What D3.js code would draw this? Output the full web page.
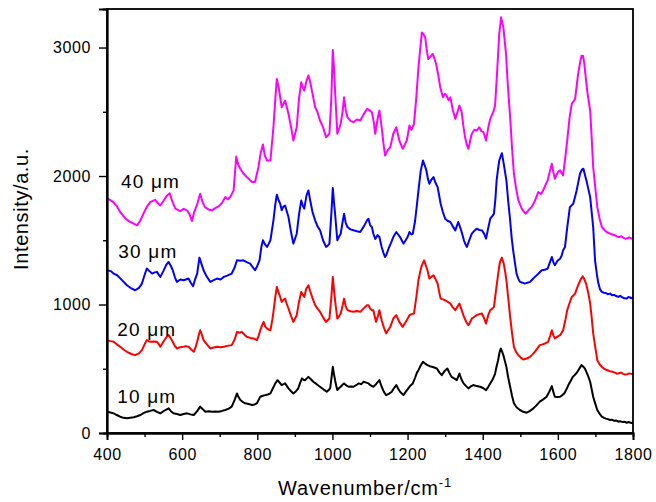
<!DOCTYPE html>
<html>
<head>
<meta charset="utf-8">
<script src="https://cdn.jsdelivr.net/npm/d3@7"></script>
<style>
	body { margin: 0; background: #fff; }
	text { font-family: Arial, "Liberation Sans", sans-serif; fill: #000; }
</style>
</head>
<body>
<svg id="spectra" width="656" height="502" viewBox="0 0 656 502"></svg>
<script>

// Raman spectra: [wavenumber (cm-1), intensity (a.u.)]
const spec_10um = [[400,166],[409,160],[418,153],[426,140],[435,127],[444,118],[453,114],[462,118],[471,122],[480,130],[489,140],[497,155],[506,166],[515,172],[524,179],[533,165],[542,153],[553,175],[564,192],[570,170],[577,153],[586,148],[595,140],[604,148],[613,153],[622,145],[631,140],[640,170],[648,205],[655,185],[662,166],[671,170],[680,166],[688,168],[697,166],[706,172],[715,179],[724,190],[732,205],[740,260],[746,308],[750,280],[755,257],[762,240],[768,231],[777,225],[786,218],[793,222],[799,231],[804,260],[808,282],[815,290],[821,295],[828,300],[835,308],[842,350],[848,386],[854,411],[860,390],[865,373],[870,380],[874,386],[879,365],[883,347],[890,325],[896,308],[903,325],[909,347],[914,390],[919,425],[923,415],[927,411],[932,425],[936,437],[942,420],[949,399],[958,380],[967,360],[976,340],[985,321],[990,335],[994,347],[998,440],[1001,515],[1004,460],[1007,411],[1010,370],[1013,334],[1018,350],[1022,360],[1027,375],[1031,386],[1037,370],[1043,360],[1050,362],[1056,360],[1063,372],[1070,386],[1077,380],[1083,399],[1090,392],[1096,386],[1102,370],[1109,360],[1116,380],[1125,412],[1131,360],[1137,320],[1143,295],[1150,305],[1158,321],[1164,350],[1170,373],[1175,345],[1180,321],[1189,295],[1195,320],[1202,347],[1208,370],[1214,386],[1220,430],[1225,470],[1229,489],[1235,525],[1241,554],[1247,540],[1253,528],[1259,520],[1265,515],[1271,510],[1278,502],[1285,470],[1291,450],[1298,480],[1306,502],[1311,470],[1317,437],[1324,425],[1331,411],[1335,440],[1338,463],[1343,420],[1349,386],[1356,365],[1362,347],[1368,362],[1375,373],[1384,365],[1393,360],[1401,350],[1409,334],[1415,360],[1420,386],[1427,420],[1433,463],[1437,520],[1441,567],[1445,630],[1448,658],[1452,630],[1455,606],[1459,560],[1463,515],[1468,430],[1473,360],[1478,290],[1483,231],[1490,200],[1499,179],[1508,165],[1517,158],[1526,172],[1535,192],[1543,215],[1552,244],[1561,262],[1570,282],[1577,320],[1584,365],[1588,320],[1592,282],[1599,280],[1606,282],[1612,295],[1617,308],[1623,340],[1628,373],[1634,405],[1640,437],[1646,455],[1652,476],[1658,505],[1663,528],[1668,515],[1672,502],[1679,455],[1686,399],[1690,340],[1694,282],[1700,225],[1705,179],[1711,150],[1717,127],[1723,118],[1728,112],[1733,108],[1739,101],[1744,104],[1750,95],[1755,98],[1761,88],[1766,92],[1772,85],[1777,88],[1783,80],[1788,86],[1792,82],[1796,78],[1800,80]];

const spec_20um = [[400,723],[409,715],[418,710],[426,690],[435,671],[444,650],[453,632],[465,615],[475,606],[485,620],[493,645],[500,690],[506,723],[515,710],[524,712],[533,710],[538,690],[542,671],[550,710],[558,745],[564,762],[570,735],[575,710],[580,680],[586,658],[595,668],[604,671],[610,676],[617,671],[624,650],[631,632],[636,670],[640,710],[645,770],[648,800],[652,770],[657,723],[666,690],[675,658],[684,665],[693,671],[702,668],[711,671],[720,678],[732,684],[740,730],[746,787],[752,780],[759,787],[766,765],[772,749],[781,740],[790,736],[799,723],[804,760],[808,800],[813,840],[817,865],[821,830],[826,813],[830,805],[835,800],[840,880],[843,943],[848,1060],[852,1137],[857,1090],[861,1059],[865,1020],[869,1035],[874,1046],[878,1010],[883,969],[890,910],[896,865],[905,917],[911,1020],[917,1098],[921,1075],[925,1059],[930,1120],[936,1150],[940,1111],[947,1050],[954,995],[960,970],[967,943],[975,900],[983,865],[988,880],[992,891],[997,1050],[1001,1215],[1004,1120],[1007,1033],[1013,891],[1018,910],[1022,930],[1027,990],[1031,1046],[1035,990],[1040,956],[1048,948],[1056,943],[1065,950],[1074,943],[1083,970],[1092,995],[1096,995],[1100,970],[1105,956],[1109,956],[1116,865],[1121,910],[1125,956],[1131,878],[1137,820],[1143,775],[1148,800],[1154,826],[1162,891],[1170,917],[1178,865],[1187,826],[1192,850],[1198,878],[1205,917],[1211,925],[1217,930],[1223,1050],[1229,1189],[1234,1260],[1238,1305],[1244,1344],[1249,1300],[1253,1267],[1258,1202],[1263,1215],[1269,1228],[1274,1200],[1280,1163],[1284,1100],[1288,1046],[1294,1040],[1300,1033],[1307,1020],[1314,1007],[1320,980],[1327,956],[1333,985],[1338,1007],[1344,956],[1350,905],[1356,865],[1362,839],[1367,865],[1371,891],[1378,905],[1384,917],[1391,925],[1398,930],[1404,890],[1409,852],[1415,920],[1420,956],[1426,970],[1430,982],[1435,1100],[1439,1189],[1443,1280],[1446,1331],[1451,1365],[1456,1318],[1460,1250],[1463,1189],[1468,1050],[1473,904],[1478,780],[1483,671],[1489,630],[1495,606],[1502,585],[1508,572],[1517,580],[1526,593],[1532,610],[1539,632],[1546,660],[1552,684],[1559,690],[1566,697],[1574,710],[1580,760],[1584,800],[1588,760],[1592,736],[1599,750],[1606,762],[1610,780],[1614,800],[1620,880],[1625,956],[1631,1010],[1637,1059],[1646,1085],[1650,1120],[1654,1150],[1660,1190],[1666,1220],[1670,1200],[1675,1163],[1681,1090],[1686,1007],[1690,900],[1694,775],[1700,660],[1705,567],[1711,535],[1717,516],[1723,500],[1730,490],[1736,484],[1741,478],[1746,476],[1752,470],[1757,462],[1763,465],[1768,470],[1774,460],[1779,455],[1785,458],[1790,464],[1796,460],[1800,460]];

const spec_30um = [[400,1267],[410,1260],[418,1240],[427,1228],[440,1190],[453,1150],[465,1125],[475,1111],[485,1130],[493,1163],[500,1230],[506,1280],[513,1260],[520,1241],[527,1250],[533,1254],[538,1230],[542,1215],[550,1260],[558,1310],[564,1331],[570,1300],[575,1267],[581,1210],[586,1176],[595,1195],[604,1189],[610,1195],[617,1202],[623,1170],[629,1142],[635,1200],[640,1241],[646,1365],[651,1320],[657,1267],[665,1220],[675,1176],[684,1190],[693,1202],[702,1195],[711,1215],[720,1225],[732,1241],[740,1290],[746,1344],[755,1340],[763,1344],[772,1330],[781,1318],[788,1290],[794,1267],[800,1300],[806,1344],[811,1450],[815,1500],[820,1470],[826,1448],[830,1470],[835,1500],[843,1655],[848,1780],[852,1855],[857,1810],[861,1784],[865,1733],[869,1760],[874,1771],[883,1681],[890,1560],[896,1474],[905,1551],[911,1700],[917,1810],[921,1770],[925,1746],[931,1850],[936,1888],[940,1823],[947,1720],[954,1655],[960,1610],[967,1578],[975,1500],[983,1448],[988,1460],[992,1474],[997,1700],[1001,1906],[1004,1800],[1007,1707],[1013,1500],[1018,1530],[1022,1551],[1027,1640],[1031,1707],[1035,1640],[1040,1603],[1048,1585],[1056,1578],[1065,1570],[1074,1564],[1084,1610],[1092,1655],[1096,1668],[1100,1620],[1105,1603],[1109,1551],[1114,1510],[1120,1540],[1125,1525],[1131,1448],[1136,1400],[1140,1370],[1143,1383],[1150,1440],[1156,1480],[1162,1525],[1170,1564],[1175,1545],[1180,1525],[1189,1474],[1195,1500],[1200,1525],[1205,1564],[1210,1545],[1214,1551],[1220,1650],[1225,1780],[1229,1888],[1235,2040],[1241,2121],[1246,2080],[1250,2044],[1254,1980],[1258,1940],[1263,1970],[1269,1992],[1274,1950],[1280,1914],[1284,1850],[1288,1784],[1294,1720],[1300,1668],[1307,1650],[1314,1642],[1320,1610],[1327,1577],[1331,1610],[1335,1642],[1340,1600],[1344,1564],[1350,1500],[1354,1470],[1358,1448],[1364,1500],[1371,1551],[1378,1575],[1384,1590],[1391,1580],[1398,1577],[1404,1550],[1409,1513],[1415,1600],[1420,1668],[1426,1690],[1430,1707],[1434,1830],[1437,1966],[1441,2060],[1444,2121],[1451,2178],[1456,2095],[1463,1966],[1468,1800],[1473,1655],[1477,1520],[1481,1422],[1486,1320],[1490,1241],[1495,1200],[1499,1176],[1506,1170],[1512,1163],[1519,1170],[1526,1176],[1532,1195],[1539,1215],[1548,1240],[1557,1267],[1565,1270],[1573,1280],[1579,1330],[1584,1370],[1588,1330],[1592,1306],[1599,1340],[1606,1357],[1610,1380],[1614,1422],[1619,1448],[1625,1600],[1632,1758],[1641,1784],[1646,1840],[1650,1888],[1655,1960],[1659,2018],[1664,2050],[1668,2057],[1672,2010],[1676,1966],[1681,1900],[1686,1836],[1690,1720],[1694,1603],[1699,1344],[1704,1230],[1708,1163],[1712,1120],[1717,1098],[1722,1092],[1728,1090],[1733,1080],[1739,1085],[1744,1072],[1750,1075],[1755,1066],[1761,1059],[1766,1068],[1772,1055],[1777,1048],[1783,1046],[1788,1058],[1792,1055],[1796,1048],[1800,1058]];

const spec_40um = [[400,1826],[408,1815],[417,1797],[425,1770],[435,1720],[449,1670],[460,1645],[471,1629],[480,1616],[488,1650],[497,1707],[506,1760],[515,1797],[528,1815],[535,1790],[542,1771],[551,1810],[560,1849],[567,1866],[574,1800],[582,1746],[595,1727],[604,1745],[613,1733],[620,1700],[626,1650],[632,1720],[639,1771],[648,1862],[654,1800],[661,1758],[670,1740],[679,1733],[688,1750],[697,1764],[706,1790],[715,1836],[722,1820],[728,1836],[737,1888],[744,2152],[749,2090],[755,2057],[763,2020],[772,1992],[780,1970],[786,1953],[794,1953],[803,2069],[809,2180],[815,2246],[820,2160],[826,2121],[835,2121],[843,2380],[848,2600],[852,2756],[857,2690],[861,2613],[865,2535],[874,2587],[883,2484],[890,2380],[896,2277],[905,2380],[911,2600],[917,2730],[921,2690],[925,2665],[931,2740],[936,2782],[940,2743],[947,2640],[954,2535],[960,2500],[967,2432],[975,2380],[983,2302],[992,2329],[997,2600],[1001,2981],[1004,2850],[1007,2665],[1013,2329],[1022,2406],[1027,2500],[1031,2613],[1035,2520],[1040,2458],[1048,2430],[1056,2419],[1065,2440],[1074,2432],[1083,2480],[1092,2522],[1100,2510],[1105,2497],[1110,2420],[1114,2329],[1120,2440],[1125,2510],[1131,2380],[1136,2250],[1140,2160],[1147,2200],[1154,2225],[1162,2329],[1170,2380],[1178,2277],[1187,2212],[1192,2240],[1198,2277],[1205,2393],[1210,2360],[1217,2406],[1223,2600],[1229,2846],[1234,3000],[1238,3118],[1243,3100],[1247,3079],[1251,2980],[1255,2911],[1261,2930],[1267,2950],[1271,2920],[1276,2872],[1282,2780],[1287,2691],[1294,2613],[1299,2640],[1304,2626],[1309,2590],[1314,2613],[1320,2520],[1327,2445],[1333,2500],[1338,2549],[1344,2497],[1348,2400],[1353,2302],[1358,2240],[1362,2212],[1367,2280],[1371,2329],[1378,2360],[1384,2354],[1391,2380],[1396,2350],[1402,2341],[1409,2277],[1415,2380],[1420,2445],[1428,2497],[1433,2549],[1439,2846],[1444,3105],[1449,3235],[1455,3157],[1462,2950],[1467,2700],[1473,2458],[1478,2220],[1483,2018],[1489,1900],[1495,1810],[1504,1746],[1510,1720],[1515,1707],[1522,1735],[1530,1758],[1538,1800],[1548,1875],[1555,1860],[1561,1888],[1567,1930],[1573,1966],[1579,2040],[1584,2095],[1588,2030],[1592,1979],[1600,2030],[1606,2044],[1614,2005],[1620,2150],[1625,2277],[1631,2450],[1637,2562],[1646,2600],[1650,2700],[1654,2795],[1659,2880],[1663,2937],[1667,2935],[1670,2885],[1678,2665],[1686,2510],[1690,2300],[1694,2069],[1700,1900],[1705,1758],[1711,1670],[1717,1603],[1724,1580],[1730,1564],[1735,1558],[1740,1550],[1746,1545],[1752,1539],[1757,1530],[1763,1525],[1768,1532],[1774,1521],[1779,1512],[1785,1515],[1790,1522],[1796,1513],[1800,1515]];

const series_names = ["10 \u03bcm", "20 \u03bcm", "30 \u03bcm", "40 \u03bcm"];
const series_data = [spec_10um, spec_20um, spec_30um, spec_40um];
const series_colors = ["#000000", "#ff0000", "#0000ff", "#ff00ff"];
// where each name sits, in data coordinates [wavenumber, intensity]
const label_anchor = [[427, 236], [427, 754], [430, 1360], [437, 1904]];

const x_ticks = [400, 600, 800, 1000, 1200, 1400, 1600, 1800];
const x_minor = [500, 700, 900, 1100, 1300, 1500, 1700];
const y_ticks = [0, 1000, 2000, 3000];
const y_minor = [500, 1500, 2500];

class SpectraPlot {

	constructor(svg_element_id) {
		this.svg = d3.select('#' + svg_element_id);

		const margin = {left: 107, right: 23, top: 9, bottom: 69};
		const width = 656 - margin.left - margin.right;
		const height = 502 - margin.top - margin.bottom;

		const x = d3.scaleLinear().domain([400, 1800]).range([0, width]);
		const y = d3.scaleLinear().domain([0, 3300]).range([height, 0]);

		const g = this.svg.append('g')
			.attr('transform', `translate(${margin.left},${margin.top})`);

		// spectra
		const line = d3.line()
			.x(d => x(d[0]))
			.y(d => y(d[1]));

		g.selectAll('.spectrum')
			.data(series_data)
			.enter()
			.append('path')
			.classed('spectrum', true)
			.attr('d', line)
			.attr('fill', 'none')
			.attr('stroke', (d, i) => series_colors[i])
			.attr('stroke-width', 2)
			.attr('stroke-linejoin', 'round');

		// frame
		g.append('rect')
			.attr('width', width)
			.attr('height', height)
			.attr('fill', 'none')
			.attr('stroke', '#000')
			.attr('stroke-width', 1.8);

		// axes, major ticks with labels and minor ticks without
		g.append('g')
			.attr('transform', `translate(0,${height})`)
			.call(d3.axisBottom(x).tickValues(x_ticks).tickSize(7).tickPadding(9).tickFormat(d3.format('d')));
		g.append('g')
			.attr('transform', `translate(0,${height})`)
			.call(d3.axisBottom(x).tickValues(x_minor).tickSize(4).tickFormat(''));

		g.append('g')
			.call(d3.axisLeft(y).tickValues(y_ticks).tickSize(8).tickPadding(8).tickFormat(d3.format('d')));
		g.append('g')
			.call(d3.axisLeft(y).tickValues(y_minor).tickSize(4).tickFormat(''));

		g.selectAll('.domain').attr('stroke-width', 1.8);
		g.selectAll('.tick line').attr('stroke-width', 1.4);
		g.selectAll('.tick text')
			.style('font-size', '16px')
			.style('letter-spacing', '0.6px')
			.style('font-family', 'Arial, "Liberation Sans", sans-serif');

		// series names
		g.selectAll('.series-label')
			.data(label_anchor)
			.enter()
			.append('text')
			.classed('series-label', true)
			.attr('x', d => x(d[0]))
			.attr('y', d => y(d[1]))
			.text((d, i) => series_names[i])
			.style('font-size', '19px')
			.style('letter-spacing', '1.2px');

		// axis titles
		const x_title = g.append('text')
			.attr('x', width / 2 - 5)
			.attr('y', height + 62)
			.attr('text-anchor', 'middle')
			.style('font-size', '20px')
			.style('letter-spacing', '0.8px');
		x_title.append('tspan').text('Wavenumber/cm');
		x_title.append('tspan')
			.attr('dy', '-0.6em')
			.style('font-size', '13px')
			.text('-1');

		g.append('text')
			.attr('transform', `translate(${28 - margin.left},${209 - margin.top}) rotate(-90)`)
			.attr('text-anchor', 'middle')
			.style('font-size', '20px')
			.style('letter-spacing', '0.6px')
			.text('Intensity/a.u.');
	}
}

function whenDocumentLoaded(action) {
	if (document.readyState === "loading") {
		document.addEventListener("DOMContentLoaded", action);
	} else {
		action();
	}
}

whenDocumentLoaded(() => {
	plot_object = new SpectraPlot('spectra');
});
</script>
</body>
</html>
